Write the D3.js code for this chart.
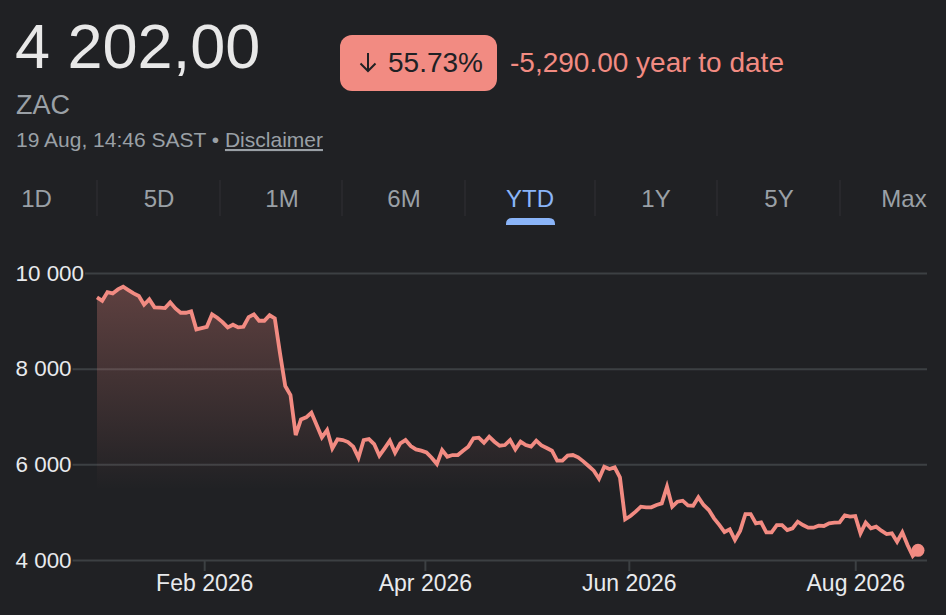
<!DOCTYPE html>
<html>
<head>
<meta charset="utf-8">
<script src="https://cdn.jsdelivr.net/npm/d3@7"></script>
<style>
html, body { margin: 0; padding: 0; background: #202124; overflow: hidden; }
svg { display: block; font-family: "Liberation Sans", Arial, sans-serif; }
</style>
</head>
<body>
<div id="chart"></div>
<script>
// daily closes, one per trading day
var prices = [
    9490, 9420, 9600, 9573, 9657, 9713, 9643, 9573, 9518, 9337,
    9449, 9281, 9274, 9267, 9386, 9260, 9169, 9169, 9197, 8821,
    8849, 8876, 9135, 9065, 8974, 8864, 8919, 8864, 8876, 9079,
    9135, 9002, 9002, 9120, 9051, 8320, 7637, 7448, 6612, 6940,
    6982, 7079, 6822, 6564, 6717, 6334, 6522, 6508, 6466, 6369,
    6139, 6508, 6529, 6424, 6181, 6334, 6494, 6243, 6438, 6508,
    6383, 6313, 6285, 6250, 6139, 6006, 6299, 6160, 6194, 6194,
    6285, 6369, 6543, 6557, 6452, 6578, 6473, 6390, 6403, 6508,
    6313, 6473, 6403, 6369, 6494, 6396, 6341, 6285, 6076, 6076,
    6181, 6194, 6146, 6062, 5965, 5867, 5700, 5951, 5902, 5937,
    5728, 4850, 4920, 5010, 5115, 5101, 5101, 5150, 5184, 5533,
    5115, 5219, 5240, 5142, 5135, 5310, 5150, 5045, 4871, 4735,
    4585, 4641, 4418, 4613, 4961, 4961, 4766, 4787, 4578, 4578,
    4731, 4731, 4627, 4662, 4801, 4731, 4676, 4676, 4718, 4711,
    4766, 4780, 4787, 4933, 4906, 4920, 4557, 4780, 4662, 4697,
    4613, 4543, 4557, 4383, 4578, 4313, 4084, 4202
];

var yTicks = [4000, 6000, 8000, 10000];
var yTickLabels = ["4 000", "6 000", "8 000", "10 000"];
var xTicks = [20.5, 62.7, 101.7, 145];
var xTickLabels = ["Feb 2026", "Apr 2026", "Jun 2026", "Aug 2026"];
var ranges = ["1D", "5D", "1M", "6M", "YTD", "1Y", "5Y", "Max"];
var activeRange = "YTD";

var w = 946;
var h = 615;

var svg = d3.select("#chart")
            .append("svg")
            .attr("width", w)
            .attr("height", h);

// header
svg.append("text").attr("x", 15).attr("y", 68)
    .attr("font-size", 63).attr("fill", "#e8e8e8").text("4 202,00");
svg.append("text").attr("x", 16).attr("y", 114)
    .attr("font-size", 27).attr("fill", "#9aa0a6").text("ZAC");

var stamp = svg.append("text").attr("x", 16).attr("y", 147)
    .attr("font-size", 21).attr("fill", "#9aa0a6");
stamp.append("tspan").text("19 Aug, 14:46 SAST \u2022 ");
stamp.append("tspan").attr("text-decoration", "underline").text("Disclaimer");

// change badge
svg.append("rect").attr("x", 340).attr("y", 35).attr("width", 157).attr("height", 56)
    .attr("rx", 12).attr("fill", "#f28b82");
svg.append("path").attr("d", "M368 53V71M360.5 63.5L368 71L375.5 63.5")
    .attr("fill", "none").attr("stroke", "#202124").attr("stroke-width", 2);
svg.append("text").attr("x", 388).attr("y", 72)
    .attr("font-size", 28).attr("fill", "#202124").text("55.73%");
svg.append("text").attr("x", 510).attr("y", 72)
    .attr("font-size", 28).attr("fill", "#f28b82").text("-5,290.00 year to date");

// range tabs, the YTD cell is wider than the others
var tabCentre = d3.scaleOrdinal().domain(ranges).range([36.5, 159, 282, 404, 530, 656, 779, 904]);
var tabEdge = d3.scaleOrdinal().domain(ranges).range([97, 220, 342, 465, 595, 717, 840]);

var tabs = svg.selectAll(".tab")
    .data(ranges)
    .enter()
    .append("g")
    .attr("class", "tab");

tabs.append("text")
    .attr("x", function (d) { return tabCentre(d); })
    .attr("y", 207)
    .attr("text-anchor", "middle")
    .attr("font-size", 24)
    .attr("fill", function (d) { return d == activeRange ? "#8ab4f8" : "#9aa0a6"; })
    .text(function (d) { return d; });

tabs.filter(function (d, i) { return i < ranges.length - 1; })
    .append("line")
    .attr("x1", function (d) { return tabEdge(d); })
    .attr("x2", function (d) { return tabEdge(d); })
    .attr("y1", 180)
    .attr("y2", 216)
    .attr("stroke", "#303134");

svg.append("path").attr("d", "M506 225V224Q506 218 512 218H549Q555 218 555 224V225Z")
    .attr("fill", "#8ab4f8");

// scales
var x = d3.scaleLinear().domain([0, prices.length - 1]).range([97, 918]);
var y = d3.scaleLinear().domain([4000, 10000]).range([560, 273]);

// axes
var yAxis = d3.axisLeft(y)
    .tickValues(yTicks)
    .tickSize(0)
    .tickFormat(function (d, i) { return yTickLabels[i]; });

var yGroup = svg.append("g").call(yAxis);
yGroup.select(".domain").remove();
yGroup.selectAll(".tick text")
    .attr("x", 15.5)
    .attr("dy", "0.32em")
    .attr("text-anchor", "start")
    .attr("font-size", 22.4)
    .attr("font-family", "Liberation Sans")
    .attr("fill", "#e8eaed");
// gridline starts right after its label
yGroup.selectAll(".tick").each(function () {
    var label = d3.select(this).select("text").node();
    d3.select(this).select("line")
        .attr("x1", 15.5 + label.getComputedTextLength() + 1)
        .attr("x2", 927)
        .attr("stroke", "#3c4043")
        .attr("stroke-width", 2);
});

var xAxis = d3.axisBottom(x)
    .tickValues(xTicks)
    .tickSize(11)
    .tickPadding(4)
    .tickFormat(function (d, i) { return xTickLabels[i]; });

var xGroup = svg.append("g").attr("transform", "translate(0,560)").call(xAxis);
xGroup.select(".domain").remove();
xGroup.selectAll(".tick line").attr("stroke", "#3c4043").attr("stroke-width", 2);
xGroup.selectAll(".tick text")
    .attr("font-size", 23)
    .attr("font-family", "Liberation Sans")
    .attr("fill", "#e8eaed");

// fill under the line
var grad = svg.append("defs").append("linearGradient")
    .attr("id", "fade")
    .attr("gradientUnits", "userSpaceOnUse")
    .attr("x1", 0).attr("x2", 0)
    .attr("y1", 285).attr("y2", 490);
grad.append("stop").attr("offset", 0).attr("stop-color", "#f28b82").attr("stop-opacity", 0.3);
grad.append("stop").attr("offset", 1).attr("stop-color", "#f28b82").attr("stop-opacity", 0);

var area = d3.area()
    .x(function (d, i) { return x(i); })
    .y0(y(4000))
    .y1(function (d) { return y(d); });

svg.append("path").datum(prices).attr("d", area).attr("fill", "url(#fade)");

var line = d3.line()
    .x(function (d, i) { return x(i); })
    .y(function (d) { return y(d); });

svg.append("path").datum(prices).attr("d", line)
    .attr("fill", "none")
    .attr("stroke", "#f28b82")
    .attr("stroke-width", 3.8)
    .attr("stroke-linejoin", "miter");

svg.append("circle")
    .attr("cx", x(prices.length - 1))
    .attr("cy", y(prices[prices.length - 1]))
    .attr("r", 6.5)
    .attr("fill", "#f28b82");
</script>
</body>
</html>
